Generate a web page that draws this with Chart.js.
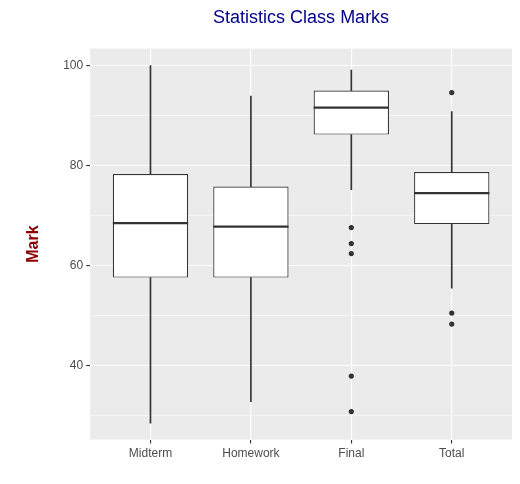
<!DOCTYPE html>
<html>
<head>
<meta charset="utf-8">
<title>Statistics Class Marks</title>
<script src="https://cdn.jsdelivr.net/npm/chart.js@4.4.0/dist/chart.umd.min.js"></script>
<style>
  html, body { margin: 0; padding: 0; background: #fff; }
</style>
</head>
<body>
<canvas id="boxChart" width="520" height="484"></canvas>
<script>
// data
const categories = ['Midterm', 'Homework', 'Final', 'Total'];
const lowerWhisker = [28.5, 32.8, 75.2, 55.5];
const q1 = [57.6, 57.6, 86.2, 68.3];
const median = [68.5, 67.8, 91.6, 74.5];
const q3 = [78.3, 75.8, 95.0, 78.7];
const upperWhisker = [100, 93.9, 99.1, 90.8];
const finalOutliers = [67.6, 64.4, 62.4, 37.9, 30.8];
const totalOutliers = [94.6, 50.5, 48.3];
const yTicks = [30, 40, 50, 60, 70, 80, 90, 100];
const yLabels = [40, 60, 80, 100];

const pos = categories.map((c, i) => i + 1);

// grey panel behind grid
const panelBg = {
  id: 'panelBg',
  beforeDraw(chart) {
    const { ctx, chartArea: a } = chart;
    ctx.save();
    ctx.fillStyle = '#fff';
    ctx.fillRect(0, 0, chart.width, chart.height);
    ctx.fillStyle = '#EBEBEB';
    ctx.fillRect(a.left, a.top, a.right - a.left, a.bottom - a.top);
    ctx.restore();
  }
};

// median line across each box
const medianLines = {
  id: 'medianLines',
  afterDatasetsDraw(chart) {
    const { ctx } = chart;
    const xs = chart.scales.x, ys = chart.scales.y;
    const boxes = chart.getDatasetMeta(2).data;
    ctx.save();
    ctx.strokeStyle = '#333333';
    ctx.lineWidth = 2.2;
    median.forEach((m, i) => {
      const x = xs.getPixelForValue(pos[i]);
      const half = boxes[i].width / 2;
      const y = ys.getPixelForValue(m);
      ctx.beginPath();
      ctx.moveTo(x - half, y);
      ctx.lineTo(x + half, y);
      ctx.stroke();
    });
    ctx.restore();
  }
};

const outlierPoints = []
  .concat(finalOutliers.map(v => ({ x: 3, y: v })))
  .concat(totalOutliers.map(v => ({ x: 4, y: v })));

const ctx = document.getElementById('boxChart').getContext('2d');
const chart = new Chart(ctx, {
  type: 'bar',
  data: {
    datasets: [
      {
        label: 'lower whisker',
        data: pos.map((p, i) => ({ x: p, y: [lowerWhisker[i], q1[i]] })),
        backgroundColor: '#333333',
        barThickness: 1,
        grouped: false,
        order: 3
      },
      {
        label: 'upper whisker',
        data: pos.map((p, i) => ({ x: p, y: [q3[i], upperWhisker[i]] })),
        backgroundColor: '#333333',
        barThickness: 1,
        grouped: false,
        order: 3
      },
      {
        label: 'box',
        data: pos.map((p, i) => ({ x: p, y: [q1[i], q3[i]] })),
        backgroundColor: '#FFFFFF',
        borderColor: '#333333',
        borderWidth: 1.2,
        borderSkipped: false,
        barPercentage: 0.75,
        categoryPercentage: 1,
        grouped: false,
        order: 2
      },
      {
        type: 'scatter',
        label: 'outliers',
        data: outlierPoints,
        backgroundColor: '#333333',
        borderWidth: 0,
        pointRadius: 2.6,
        order: 1
      }
    ]
  },
  options: {
    responsive: false,
    animation: false,
    layout: { padding: { left: 24, right: 8, top: 4, bottom: 20 } },
    plugins: {
      legend: { display: false },
      tooltip: { enabled: false },
      title: {
        display: true,
        text: 'Statistics Class Marks',
        color: '#00008B',
        fullSize: false,
        font: { family: 'Liberation Sans, Arial, sans-serif', size: 18, weight: 'normal' },
        padding: { top: 3, bottom: 20 }
      }
    },
    scales: {
      x: {
        type: 'linear',
        min: 0.4,
        max: 4.6,
        offset: false,
        afterBuildTicks: axis => { axis.ticks = pos.map(v => ({ value: v })); },
        ticks: {
          color: '#4D4D4D',
          font: { family: 'Liberation Sans, Arial, sans-serif', size: 12 },
          padding: 3,
          callback: v => categories[v - 1]
        },
        grid: {
          offset: false,
          color: '#FFFFFF',
          lineWidth: 1.1,
          tickLength: 4,
          tickColor: '#333333'
        },
        border: { display: false }
      },
      y: {
        min: 25.2,
        max: 103.4,
        afterBuildTicks: axis => { axis.ticks = yTicks.map(v => ({ value: v })); },
        ticks: {
          color: '#4D4D4D',
          font: { family: 'Liberation Sans, Arial, sans-serif', size: 12 },
          padding: 3,
          callback: v => yLabels.includes(v) ? String(v) : ''
        },
        grid: {
          color: '#FFFFFF',
          lineWidth: c => yLabels.includes(c.tick.value) ? 1.1 : 0.55,
          tickLength: 4,
          tickColor: c => yLabels.includes(c.tick.value) ? '#333333' : 'rgba(0,0,0,0)'
        },
        border: { display: false },
        title: {
          display: true,
          text: 'Mark',
          color: '#8B0000',
          font: { family: 'Liberation Sans, Arial, sans-serif', size: 16, weight: 'bold' },
          padding: { top: 0, bottom: 17 }
        }
      }
    }
  },
  plugins: [panelBg, medianLines]
});
</script>
</body>
</html>
